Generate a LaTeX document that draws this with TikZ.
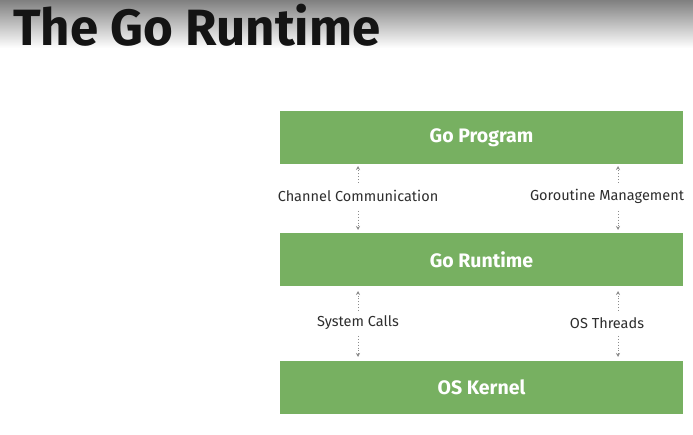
\documentclass[tikz,border=0pt]{standalone}
\usepackage{fontspec}
\setmainfont{Fira Sans}
\usetikzlibrary{arrows.meta}
\definecolor{gogreen}{RGB}{119,176,97}
\definecolor{labelgray}{RGB}{45,45,45}
\definecolor{arrowgray}{RGB}{140,140,140}
\tikzset{
  layer/.style={fill=gogreen, draw=none, minimum width=403pt, minimum height=53pt, inner sep=0pt,
    text=white, font=\fontsize{19.5}{21}\selectfont\bfseries},
  lbl/.style={text=labelgray, font=\fontsize{14.5}{16}\selectfont, inner sep=0pt},
  dotarrow/.style={draw=arrowgray, dotted, line width=0.9pt, -{Stealth[length=4pt,width=4pt]}}
}
\begin{document}
\begin{tikzpicture}[x=1pt,y=-1pt]
\useasboundingbox (0,0) rectangle (693,435);
\shade[top color=black!50, bottom color=white] (0,0) rectangle (693,48);
\node[anchor=west, inner sep=0pt, font=\fontsize{51}{54}\selectfont\bfseries, text=black!92] (title) at (13,25) {The Go Runtime};

\node[layer] (prog) at (481.5,137.5) {Go Program};
\node[layer] (rt) at (481.5,260) {Go Runtime};
\node[layer] (kern) at (481.5,387) {OS Kernel};

\node[lbl] (cc) at (358,196) {Channel Communication};
\node[lbl] (gm) at (607,196) {Goroutine Management};
\node[lbl] (sc) at (358,323) {System Calls};
\node[lbl] (ot) at (607,323) {OS Threads};

\coordinate (a1s) at (358,183); \coordinate (a1e) at (358,166);
\coordinate (a2s) at (358,211); \coordinate (a2e) at (358,230);
\coordinate (b1s) at (618,183); \coordinate (b1e) at (618,166);
\coordinate (b2s) at (618,211); \coordinate (b2e) at (618,230);
\coordinate (c1s) at (358,311); \coordinate (c1e) at (358,291);
\coordinate (c2s) at (358,336); \coordinate (c2e) at (358,357);
\coordinate (d1s) at (618,311); \coordinate (d1e) at (618,291);
\coordinate (d2s) at (618,336); \coordinate (d2e) at (618,357);
\foreach \p in {a1,a2,b1,b2,c1,c2,d1,d2}{
  \draw[dotarrow] (\p s) -- (\p e);
}
\end{tikzpicture}
\end{document}
